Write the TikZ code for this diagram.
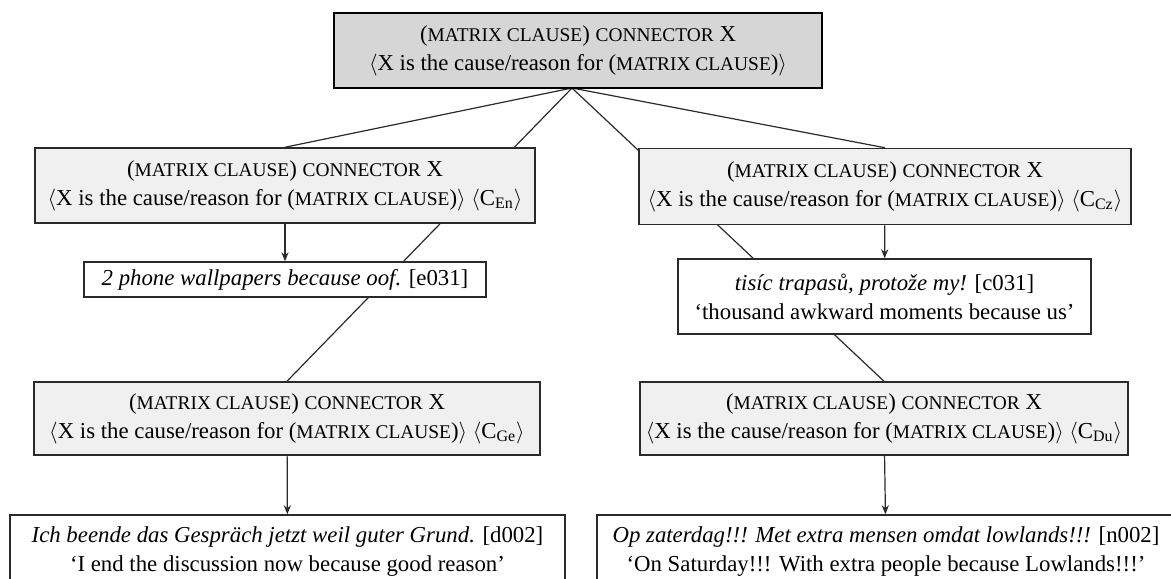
\documentclass[tikz,border=0pt]{standalone}
\usepackage{fontspec}
\setmainfont{Liberation Serif}
\usetikzlibrary{arrows.meta,backgrounds}

% faked small capitals: upper-case letters at a reduced size
\newcommand{\fsc}[1]{{\fontsize{9.7}{14.5}\selectfont #1}}
\newcommand{\mcl}{(\fsc{MATRIX CLAUSE})}
\newcommand{\schemaA}{\mcl{} \fsc{CONNECTOR} X}
\newcommand{\schemaB}{$\langle$X is the cause/reason for \mcl$\rangle$}

\definecolor{rootfill}{HTML}{D6D6D6}
\definecolor{cxfill}{HTML}{F0F0F0}
\definecolor{edge}{HTML}{2A2A2A}

\tikzset{
  every node/.style={font=\fontsize{11.4}{14.5}\selectfont, align=center, inner sep=0pt},
  rootbox/.style={draw=black, line width=1.3pt, fill=rootfill},
  cxbox/.style={draw=edge, line width=0.75pt, fill=cxfill},
  exbox/.style={draw=edge, line width=0.75pt, fill=white},
  link/.style={draw=edge, line width=0.6pt},
  arr/.style={link, -{Stealth[length=4.5pt,width=3.6pt]}}
}

\begin{document}
\begin{tikzpicture}[x=0.5pt,y=-0.5pt]
\useasboundingbox (0,0) rectangle (1171,578);
\clip (0,0) rectangle (1171,578);

% root construction
\node[rootbox, minimum width=244pt, minimum height=37.5pt] (root) at (578,50.5)
  {\schemaA\\ \schemaB};
\coordinate (apex) at (572,88);

% language-specific constructions
\node[cxbox, minimum width=250pt, minimum height=37.5pt] (en) at (285,185.5)
  {\schemaA\\ \schemaB{} $\langle$C\textsubscript{En}$\rangle$};
\node[cxbox, minimum width=246pt, minimum height=38pt] (cz) at (885,186.5)
  {\schemaA\\ \schemaB{} $\langle$C\textsubscript{Cz}$\rangle$};
\node[cxbox, minimum width=253pt, minimum height=36.5pt] (ge) at (287,418.5)
  {\schemaA\\ \schemaB{} $\langle$C\textsubscript{Ge}$\rangle$};
\node[cxbox, minimum width=244pt, minimum height=36.5pt] (du) at (884,418.5)
  {\schemaA\\ \schemaB{} $\langle$C\textsubscript{Du}$\rangle$};

% attested examples
\node[exbox, minimum width=201pt, minimum height=17.5pt] (e031) at (285,279.5)
  {\textit{2 phone wallpapers because oof.} [e031]};
\node[exbox, minimum width=206.5pt, minimum height=37.5pt] (c031) at (884.5,296.5)
  {\textit{tisíc trapasů, protože my!} [c031]\\ `thousand awkward moments because us'};
\node[exbox, minimum width=277.5pt, minimum height=37pt] (d002) at (287.5,552)
  {\textit{Ich beende das Gespräch jetzt weil guter Grund.} [d002]\\ `I end the discussion now because good reason'};
\node[exbox, minimum width=289pt, minimum height=37pt] (n002) at (886,552)
  {\textit{Op zaterdag!!! Met extra mensen omdat lowlands!!!} [n002]\\ `On Saturday!!! With extra people because Lowlands!!!'};

% inheritance links run behind the boxes
\begin{pgfonlayer}{background}
  \draw[link] (apex) -- (en.north);
  \draw[link] (apex) -- (ge.north);
  \draw[link] (apex) -- (cz.north);
  \draw[link] (apex) -- (du.north);
\end{pgfonlayer}

% instantiation arrows
\draw[arr] (en) -- (e031);
\draw[arr] (cz) -- (c031);
\draw[arr] (ge) -- (d002);
\draw[arr] (du) -- (n002);
\end{tikzpicture}
\end{document}
